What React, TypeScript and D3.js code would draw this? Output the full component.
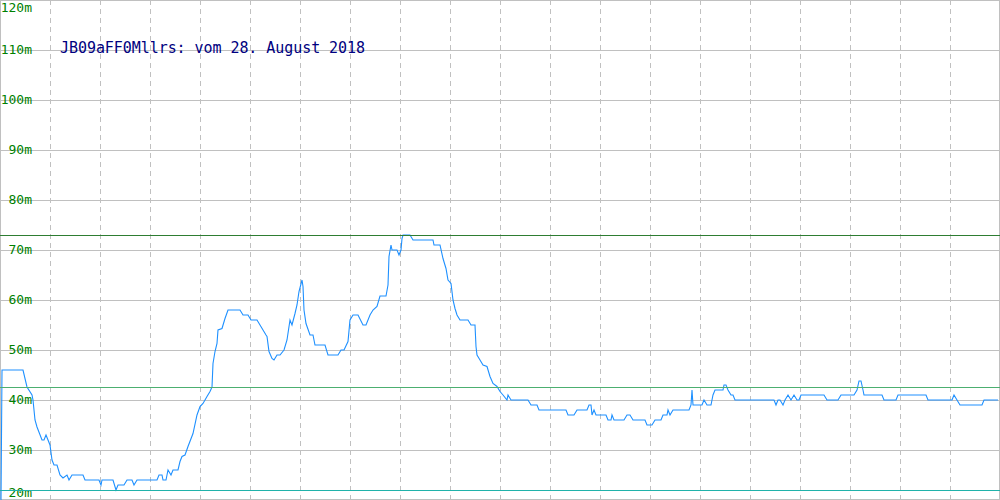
import { useEffect, useRef } from 'react'
import * as d3 from 'd3'

// measurement sample number (0..1000) and level in m
const samples = [
    1, 2, 23, 27, 32, 33, 35, 37, 42, 44, 46, 50, 52, 54, 57, 60, 63, 67, 69, 72,
    83, 85, 99, 101, 102, 113, 116, 118, 124, 127, 132, 134, 137, 157, 159, 162, 163, 166, 168, 171,
    173, 178, 180, 182, 185, 188, 193, 197, 200, 203, 207, 210, 212, 213, 215, 217, 218, 222, 225, 228,
    240, 243, 248, 251, 257, 260, 263, 266, 267, 269, 272, 274, 277, 280, 284, 287, 290, 292, 295, 297,
    299, 302, 303, 304, 306, 310, 313, 315, 325, 328, 338, 341, 344, 348, 350, 353, 358, 363, 366, 370,
    373, 377, 380, 386, 388, 389, 391, 392, 397, 399, 401, 402, 403, 410, 413, 433, 434, 440, 443, 446,
    448, 451, 453, 455, 457, 460, 468, 471, 475, 476, 477, 480, 483, 487, 490, 493, 497, 500, 503, 507,
    508, 511, 528, 531, 537, 539, 566, 568, 574, 577, 587, 589, 591, 592, 594, 596, 606, 608, 611, 612,
    614, 624, 627, 630, 633, 645, 647, 652, 655, 661, 663, 667, 668, 670, 673, 689, 691, 692, 693, 702,
    704, 707, 711, 713, 715, 723, 724, 726, 728, 731, 733, 735, 774, 776, 778, 780, 783, 785, 788, 791,
    794, 797, 799, 801, 824, 827, 838, 841, 854, 857, 859, 861, 863, 864, 882, 884, 896, 898, 926, 928,
    952, 954, 957, 960, 982, 984, 998
]

const levels = [
    20, 46, 46, 42.6, 41, 40, 36, 34.6, 32, 32, 33, 31, 28, 27, 27, 25, 24.4, 25, 24, 25,
    25, 24, 24, 23, 24, 24, 22, 23, 23, 24, 24, 23, 24, 24, 25, 25, 24, 24, 26, 25,
    26, 26, 27.7, 28.7, 29, 30.7, 33.3, 37, 38.7, 39.3, 40.7, 41.7, 42.6, 47.3, 49.7, 51.3, 54, 54.3, 56.3, 58,
    58, 57, 57, 56, 56, 55, 54, 53, 52.7, 49.7, 48.3, 48, 49, 49, 50, 52, 56, 55, 57.3, 59,
    61.7, 64, 62.7, 58, 55.3, 53, 53, 51, 51, 49, 49, 50, 50, 51.7, 56, 57, 57, 55, 55, 57,
    58, 58.7, 60.8, 60.8, 63, 68.7, 71, 70, 70, 69, 70, 72.3, 73, 73, 72, 72, 71, 71, 68.3, 66.3,
    64, 63.3, 60, 58.3, 57, 56, 56, 55, 55, 50.7, 49, 48, 47, 46.7, 44.7, 43.3, 42.7, 41.7, 41, 40,
    41, 40, 40, 39, 39, 38, 38, 37, 37, 38, 38, 39, 39, 37, 38, 37, 37, 36, 36, 37,
    36, 36, 37, 37, 36, 36, 35, 35, 36, 36, 37, 37, 38, 37, 38, 38, 39, 42, 39, 39,
    40, 39, 39, 41, 42, 42, 43, 43, 42, 41, 41, 40, 40, 39, 40, 40, 39, 40, 41, 40,
    41, 40, 40, 41, 41, 40, 40, 41, 41, 42, 43.8, 43.8, 42, 41, 41, 40, 40, 41, 41, 40,
    40, 41, 40, 39, 39, 40, 40
]

const yTicks = [20, 30, 40, 50, 60, 70, 80, 90, 100, 110, 120]
const xGrid = [50, 100, 150, 200, 250, 300, 350, 400, 450, 500, 550, 600, 650, 700, 750, 800, 850, 900, 950]

// reference lines
const maxLevel = 73
const avgLevel = 42.6
const minLevel = 22

const title = 'JB09aFF0Mllrs: vom 28. August 2018'

export default function App() {
    const svgRef = useRef<SVGSVGElement>(null)
    const width = 1000
    const height = 500

    useEffect(() => {
        document.body.style.margin = '0'
        if (!svgRef.current) return

        const svg = d3.select(svgRef.current)
        svg.selectAll('*').remove()
        svg.attr('width', width).attr('height', height)

        const x = d3.scaleLinear().domain([0, 1000]).range([0, width])
        const y = d3.scaleLinear().domain([20, 120]).range([height, 0])
        const crisp = (v: number) => Math.min(Math.round(v), height - 1) + 0.5

        svg.append('rect')
            .attr('width', width).attr('height', height)
            .attr('fill', 'white')

        // horizontal grid
        svg.append('g').selectAll('line')
            .data(yTicks)
            .enter()
            .append('line')
            .attr('x1', 0).attr('x2', width)
            .attr('y1', d => crisp(y(d))).attr('y2', d => crisp(y(d)))
            .attr('stroke', '#c0c0c0')

        // vertical dashed grid
        svg.append('g').selectAll('line')
            .data(xGrid)
            .enter()
            .append('line')
            .attr('x1', d => Math.round(x(d)) + 0.5).attr('x2', d => Math.round(x(d)) + 0.5)
            .attr('y1', 0).attr('y2', height)
            .attr('stroke', '#c0c0c0')
            .attr('stroke-dasharray', '5,4')

        // frame
        svg.append('rect')
            .attr('x', 0.5).attr('y', 0.5)
            .attr('width', width - 1).attr('height', height - 1)
            .attr('fill', 'none')
            .attr('stroke', '#c0c0c0')

        // y labels, right aligned
        svg.append('g').selectAll('text')
            .data(yTicks)
            .enter()
            .append('text')
            .attr('x', 32)
            .attr('y', d => Math.max(12, Math.min(497, y(d) + 4)))
            .attr('text-anchor', 'end')
            .attr('fill', '#008000')
            .style('font-family', '"DejaVu Sans Mono", monospace')
            .style('font-size', '13px')
            .text(d => `${d}m`)

        // title
        svg.append('text')
            .attr('x', 60)
            .attr('y', 53)
            .attr('fill', '#000080')
            .attr('textLength', 305)
            .attr('lengthAdjust', 'spacing')
            .style('font-family', '"DejaVu Sans Mono", monospace')
            .style('font-size', '15px')
            .text(title)

        // data line
        const points: [number, number][] = samples.map((s, i) => [s, levels[i]])
        const line = d3.line<[number, number]>()
            .x(d => x(d[0]))
            .y(d => y(d[1]))

        svg.append('path')
            .datum(points)
            .attr('d', line)
            .attr('fill', 'none')
            .attr('stroke', '#1e90ff')
            .attr('stroke-width', 1.1)

        // min / avg / max lines
        const refs = [
            { value: maxLevel, color: '#2e7d32' },
            { value: avgLevel, color: '#4caf70' },
            { value: minLevel, color: '#20b2aa' }
        ]
        svg.append('g').selectAll('line')
            .data(refs)
            .enter()
            .append('line')
            .attr('x1', 0).attr('x2', width)
            .attr('y1', d => crisp(y(d.value))).attr('y2', d => crisp(y(d.value)))
            .attr('stroke', d => d.color)

    }, [])

    return <svg ref={svgRef} style={{ display: 'block' }}></svg>
}
